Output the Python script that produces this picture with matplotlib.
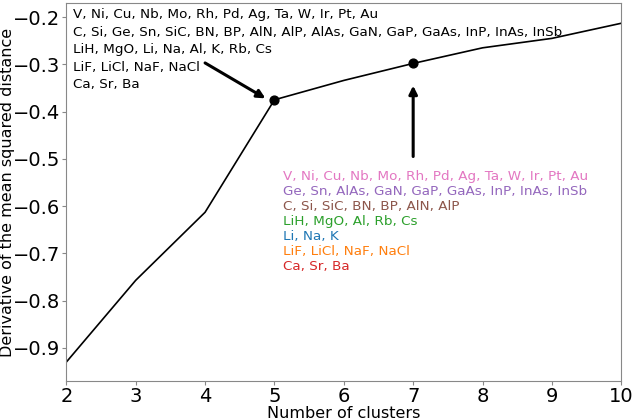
import matplotlib
matplotlib.use("Agg")
import matplotlib.pyplot as plt

# ------------------------------
# Data
# ------------------------------
n_clusters = [2, 3, 4, 5, 6, 7, 8, 9, 10]
derivative = [-0.930, -0.757, -0.613, -0.375, -0.334, -0.298, -0.265, -0.245, -0.213]
marked = [5, 7]

groups_5 = "V, Ni, Cu, Nb, Mo, Rh, Pd, Ag, Ta, W, Ir, Pt, Au\n" \
           "C, Si, Ge, Sn, SiC, BN, BP, AlN, AlP, AlAs, GaN, GaP, GaAs, InP, InAs, InSb\n" \
           "LiH, MgO, Li, Na, Al, K, Rb, Cs\n" \
           "LiF, LiCl, NaF, NaCl\n" \
           "Ca, Sr, Ba"

groups_7 = ["V, Ni, Cu, Nb, Mo, Rh, Pd, Ag, Ta, W, Ir, Pt, Au",
            "Ge, Sn, AlAs, GaN, GaP, GaAs, InP, InAs, InSb",
            "C, Si, SiC, BN, BP, AlN, AlP",
            "LiH, MgO, Al, Rb, Cs",
            "Li, Na, K",
            "LiF, LiCl, NaF, NaCl",
            "Ca, Sr, Ba"]
colors_7 = ["#e377c2", "#9467bd", "#8c564b", "#2ca02c", "#1f77b4", "#ff7f0e", "#d62728"]

# ------------------------------
# Plot
# ------------------------------
fig = plt.figure(figsize=(6.32, 4.2), dpi=100)
ax = fig.add_axes([0.105, 0.093, 0.878, 0.9])

ax.plot(n_clusters, derivative, color="black", lw=1.2)
ax.scatter(marked, [derivative[n_clusters.index(m)] for m in marked], color="black", s=40, zorder=3)

ax.set_xlim(2, 10)
ax.set_ylim(-0.97, -0.17)
ax.set_xticks(range(2, 11))
ax.set_yticks([-0.9, -0.8, -0.7, -0.6, -0.5, -0.4, -0.3, -0.2])
ax.tick_params(labelsize=14, length=3, pad=1.5, color="#888888")
ax.set_xlabel("Number of clusters", fontsize=11.5, labelpad=0)
ax.set_ylabel("Derivative of the mean squared distance", fontsize=11.5, labelpad=-1.5)
for s in ax.spines.values():
    s.set_color("#888888")

ax.text(2.09, -0.181, groups_5, fontsize=9.7, va="top", ha="left", linespacing=1.45)

y5 = derivative[n_clusters.index(5)]
ax.annotate("", xy=(4.87, y5 + 0.003), xytext=(4.0, -0.297),
            arrowprops=dict(arrowstyle="-|>", color="black", lw=2.2, mutation_scale=12,
                            shrinkA=0, shrinkB=0))
ax.annotate("", xy=(7, -0.345), xytext=(7, -0.495),
            arrowprops=dict(arrowstyle="-|>", color="black", lw=2.2, mutation_scale=12,
                            shrinkA=0, shrinkB=0))

y = -0.538
for txt, c in zip(groups_7, colors_7):
    ax.text(5.13, y, txt, fontsize=9.7, color=c, va="center", ha="left")
    y -= 0.0318

fig.savefig("out.png", dpi=100)
